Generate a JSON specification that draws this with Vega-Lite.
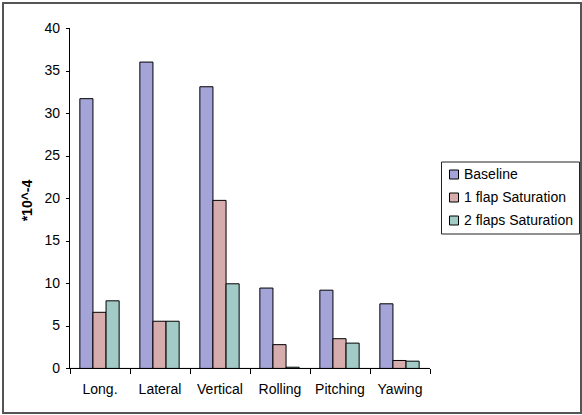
{
  "$schema": "https://vega.github.io/schema/vega-lite/v6.json",
  "width": 578,
  "height": 410,
  "autosize": {"type": "none"},
  "padding": {"left": 3, "top": 3, "right": 1, "bottom": 2},
  "background": "white",
  "config": {
    "view": {"stroke": "#555555", "strokeWidth": 2},
    "font": "Liberation Sans"
  },
  "data": {
    "values": [
      {"cat": "Long.", "series": "Baseline", "value": 31.7},
      {"cat": "Long.", "series": "1 flap Saturation", "value": 6.6},
      {"cat": "Long.", "series": "2 flaps Saturation", "value": 7.95},
      {"cat": "Lateral", "series": "Baseline", "value": 36.0},
      {"cat": "Lateral", "series": "1 flap Saturation", "value": 5.55},
      {"cat": "Lateral", "series": "2 flaps Saturation", "value": 5.55},
      {"cat": "Vertical", "series": "Baseline", "value": 33.1},
      {"cat": "Vertical", "series": "1 flap Saturation", "value": 19.75},
      {"cat": "Vertical", "series": "2 flaps Saturation", "value": 9.95},
      {"cat": "Rolling", "series": "Baseline", "value": 9.45},
      {"cat": "Rolling", "series": "1 flap Saturation", "value": 2.8},
      {"cat": "Rolling", "series": "2 flaps Saturation", "value": 0.15},
      {"cat": "Pitching", "series": "Baseline", "value": 9.2},
      {"cat": "Pitching", "series": "1 flap Saturation", "value": 3.5},
      {"cat": "Pitching", "series": "2 flaps Saturation", "value": 2.98},
      {"cat": "Yawing", "series": "Baseline", "value": 7.6},
      {"cat": "Yawing", "series": "1 flap Saturation", "value": 0.94},
      {"cat": "Yawing", "series": "2 flaps Saturation", "value": 0.86}
    ]
  },
  "encoding": {
    "x": {
      "field": "cat",
      "type": "nominal",
      "sort": ["Long.", "Lateral", "Vertical", "Rolling", "Pitching", "Yawing"],
      "scale": {"paddingInner": 0, "paddingOuter": 0, "range": [66.5, 426.5]},
      "axis": {
        "title": null,
        "orient": "bottom",
        "offset": -44.5,
        "domain": false,
        "tickBand": "extent",
        "tickSize": 5,
        "tickColor": "black",
        "labelAngle": 0,
        "labelPadding": 9,
        "labelFontSize": 14,
        "labelColor": "black",
        "labelFont": "Liberation Sans"
      }
    }
  },
  "layer": [
    {
      "mark": {"type": "bar", "stroke": "black", "strokeWidth": 1},
      "encoding": {
        "xOffset": {
          "field": "series",
          "type": "nominal",
          "sort": ["Baseline", "1 flap Saturation", "2 flaps Saturation"],
          "scale": {"paddingInner": 0, "paddingOuter": 0.79}
        },
        "y": {
          "field": "value",
          "type": "quantitative",
          "scale": {"domain": [-5.23, 42.94], "nice": false, "zero": false},
          "axis": {
            "title": "*10^-4",
            "orient": "left",
            "offset": -66.5,
            "domain": false,
            "grid": false,
            "values": [0, 5, 10, 15, 20, 25, 30, 35, 40],
            "tickSize": 4,
            "tickColor": "black",
            "labelPadding": 6,
            "labelFontSize": 14,
            "labelColor": "black",
            "labelFont": "Liberation Sans",
            "titleFontSize": 14,
            "titleFontWeight": "bold",
            "titleColor": "black",
            "titleFont": "Liberation Sans",
            "titleX": -35.5,
            "titleY": 197
          }
        },
        "color": {
          "field": "series",
          "type": "nominal",
          "sort": ["Baseline", "1 flap Saturation", "2 flaps Saturation"],
          "scale": {
            "domain": ["Baseline", "1 flap Saturation", "2 flaps Saturation"],
            "range": ["#a4a4d8", "#d6acac", "#a2cac6"]
          },
          "legend": {
            "title": null,
            "orient": "none",
            "legendX": 438,
            "legendY": 158.5,
            "strokeColor": "#222222",
            "padding": 6,
            "symbolType": "square",
            "symbolSize": 81,
            "symbolStrokeColor": "black",
            "symbolStrokeWidth": 1,
            "symbolOpacity": 1,
            "labelFontSize": 14,
            "labelColor": "black",
            "labelFont": "Liberation Sans",
            "labelOffset": 3,
            "rowPadding": 9
          }
        }
      }
    },
    {
      "mark": {"type": "rect", "fill": null, "stroke": "black", "strokeWidth": 1},
      "encoding": {
        "y": {"datum": 0, "type": "quantitative"},
        "y2": {"datum": 0}
      }
    },
    {
      "mark": {"type": "rule", "stroke": "black", "strokeWidth": 1},
      "encoding": {
        "x": {"datum": "Long.", "type": "nominal", "bandPosition": 0},
        "y": {"datum": 0, "type": "quantitative"},
        "y2": {"datum": 40}
      }
    }
  ]
}
